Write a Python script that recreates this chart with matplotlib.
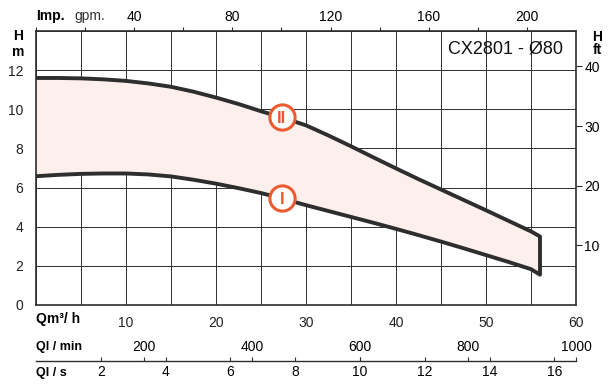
import numpy as np
import matplotlib.pyplot as plt
from matplotlib.ticker import MultipleLocator, FixedLocator

plt.rcParams['font.family'] = ['Liberation Sans', 'DejaVu Sans']

# flow in m3/h and head in m
q = [0, 2.5, 5, 7.5, 10, 12.5, 15, 17.5, 20, 22.5, 25, 27.5, 30, 32.5,
     35, 37.5, 40, 42.5, 45, 47.5, 50, 52.5, 55, 56]
h_high = [11.6, 11.6, 11.58, 11.53, 11.45, 11.32, 11.15, 10.9, 10.6, 10.27, 9.9, 9.56,
          9.18, 8.66, 8.11, 7.54, 6.98, 6.43, 5.9, 5.37, 4.84, 4.3, 3.76, 3.5]
h_low = [6.58, 6.65, 6.7, 6.72, 6.72, 6.67, 6.57, 6.4, 6.2, 5.97, 5.72, 5.42,
         5.1, 4.8, 4.5, 4.2, 3.89, 3.57, 3.24, 2.9, 2.55, 2.2, 1.83, 1.55]
badges = ['II', 'I']
badge_q = 27.3

gpm_ticks = [40, 80, 120, 160, 200]
ft_ticks = [10, 20, 30, 40]
lmin_ticks = [200, 400, 600, 800, 1000]
ls_ticks = [2, 4, 6, 8, 10, 12, 14, 16]

ink = '#2e2e2e'
orange = '#ec5a2f'

fig = plt.figure(figsize=(6.14, 3.86), dpi=100)
ax = fig.add_axes([36 / 614, 81 / 386, 540 / 614, 274 / 386])
ax.set_xlim(0, 60)
ax.set_ylim(0, 14)

ax.xaxis.set_major_locator(FixedLocator([10, 20, 30, 40, 50, 60]))
ax.xaxis.set_minor_locator(MultipleLocator(5))
ax.yaxis.set_major_locator(FixedLocator([0, 2, 4, 6, 8, 10, 12]))
ax.yaxis.set_minor_locator(MultipleLocator(2))
ax.grid(which='both', color=ink, linewidth=0.7)
ax.tick_params(which='both', length=0, labelsize=10, colors='#222222')
ax.tick_params(axis='x', pad=8)
ax.tick_params(axis='y', pad=9)
for s in ax.spines.values():
    s.set_linewidth(1.2)
    s.set_color(ink)

# pump field between the two curves
qq = np.array(q)
outline_x = np.concatenate([qq, qq[::-1]])
outline_y = np.concatenate([h_high, h_low[::-1]])
ax.fill(outline_x, outline_y, color='#fcefec', zorder=2, lw=0)
ax.plot(outline_x, outline_y, color=ink, lw=2.8, zorder=3, solid_joinstyle='round')

for name, hh in zip(badges, [h_high, h_low]):
    yb = np.interp(badge_q, q, hh)
    ax.scatter([badge_q], [yb], s=330, facecolor='white', edgecolor=orange,
               linewidth=2.2, zorder=4)
    ax.text(badge_q, yb - 0.05, name, color=orange, fontsize=12, fontweight='bold',
            ha='center', va='center', zorder=5)

ax.text(0.975, 0.935, 'CX2801 - Ø80', transform=ax.transAxes, ha='right', va='center',
        fontsize=13, color='#111111')

# Imperial gallons per minute along the top
m3h_to_gpm = 1000 / 60 / 4.54609
top = ax.secondary_xaxis('top', functions=(lambda x: x * m3h_to_gpm, lambda x: x / m3h_to_gpm))
top.xaxis.set_major_locator(FixedLocator(gpm_ticks))
top.xaxis.set_minor_locator(MultipleLocator(20))
top.tick_params(which='both', length=3, width=0.8, color=ink, labelsize=10, pad=2)
top.spines['top'].set_visible(False)

# head in feet on the right
right = ax.secondary_yaxis('right', functions=(lambda y: y * 3.28084, lambda y: y / 3.28084))
right.yaxis.set_major_locator(FixedLocator(ft_ticks))
right.tick_params(length=4, width=0.8, color=ink, labelsize=10, pad=2)
right.spines['right'].set_visible(False)

# separate flow scale in l/min and l/s
axq = fig.add_axes([36 / 614, 25 / 386, 540 / 614, 0.0001])
axq.set_xlim(0, 1000)
axq.set_yticks([])
for k in ['left', 'right', 'bottom']:
    axq.spines[k].set_visible(False)
axq.spines['top'].set_linewidth(1.0)
axq.spines['top'].set_color(ink)
axq.xaxis.set_ticks_position('top')
axq.xaxis.set_major_locator(FixedLocator(lmin_ticks))
axq.tick_params(axis='x', length=3, width=0.8, color=ink, labelsize=10, pad=2,
                labeltop=True, labelbottom=False)
ls = axq.secondary_xaxis('bottom', functions=(lambda x: x / 60, lambda x: x * 60))
ls.xaxis.set_major_locator(FixedLocator(ls_ticks))
ls.tick_params(length=3, width=0.8, color=ink, labelsize=10, pad=3, direction='in')
ls.spines['bottom'].set_visible(False)

fig.text(36 / 614, 1 - 16 / 386, 'Imp.', fontsize=10, fontweight='bold', va='center')
fig.text(74 / 614, 1 - 16 / 386, 'gpm.', fontsize=10, va='center', color='#333333')
fig.text(18 / 614, 1 - 36 / 386, 'H', fontsize=10, fontweight='bold', ha='center', va='center')
fig.text(18 / 614, 1 - 52 / 386, 'm', fontsize=10, fontweight='bold', ha='center', va='center')
fig.text(597 / 614, 1 - 37 / 386, 'H', fontsize=10, fontweight='bold', ha='center', va='center')
fig.text(597 / 614, 1 - 50 / 386, 'ft', fontsize=10, fontweight='bold', ha='center', va='center')
fig.text(36 / 614, 1 - 319 / 386, 'Qm³/ h', fontsize=10, fontweight='bold', va='center')
fig.text(36 / 614, 1 - 347 / 386, 'Ql / min', fontsize=9, fontweight='bold', va='center')
fig.text(36 / 614, 1 - 373 / 386, 'Ql / s', fontsize=9, fontweight='bold', va='center')

fig.savefig('out.png', dpi=100)
